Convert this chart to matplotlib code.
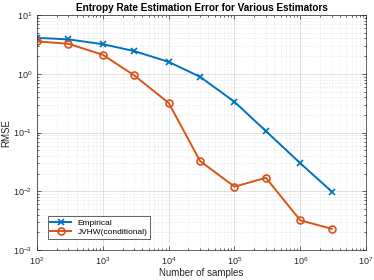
import numpy as np
import matplotlib
matplotlib.use('Agg')
import matplotlib.pyplot as plt
from matplotlib.ticker import LogLocator, NullFormatter

plt.rcParams['font.family'] = ['Liberation Sans', 'DejaVu Sans']

n_samples = [1e2, 3e2, 1e3, 3e3, 1e4, 3e4, 1e5, 3e5, 1e6, 3e6]
rmse_empirical = [4.1, 3.86, 3.2, 2.44, 1.6, 0.89, 0.334, 0.106, 0.030, 0.0099]
rmse_jvhw = [3.57, 3.25, 2.11, 0.94, 0.32, 0.0327, 0.012, 0.017, 0.0032, 0.0023]

fig = plt.figure(figsize=(3.74, 2.8), dpi=100)
ax = fig.add_axes([0.099, 0.107, 0.88, 0.839])

ax.loglog(n_samples, rmse_empirical, '-x', color='#0072BD', lw=1.4, ms=4, mew=1.2,
          label='Empirical')
ax.loglog(n_samples, rmse_jvhw, '-o', color='#D95319', lw=1.4, ms=5, mew=1.2,
          mfc='none', label='JVHW(conditional)')

ax.set_xlim(1e2, 1e7)
ax.set_ylim(1e-3, 1e1)
ax.xaxis.set_major_locator(LogLocator(base=10, numticks=10))
ax.yaxis.set_major_locator(LogLocator(base=10, numticks=10))
ax.xaxis.set_minor_locator(LogLocator(base=10, subs=np.arange(2, 10), numticks=20))
ax.yaxis.set_minor_locator(LogLocator(base=10, subs=np.arange(2, 10), numticks=20))
ax.xaxis.set_minor_formatter(NullFormatter())
ax.yaxis.set_minor_formatter(NullFormatter())

ax.grid(True, which='major', color='#d4d4d4', lw=0.5)
ax.grid(True, which='minor', color='#d8d8d8', lw=0.4, ls=':')
ax.set_axisbelow(True)
ax.tick_params(which='both', direction='in', top=True, right=True, labelsize=6.5,
               colors='#262626', width=0.5)
ax.tick_params(which='major', length=3)
ax.tick_params(which='minor', length=1.5)
for s in ax.spines.values():
    s.set_linewidth(0.5)
    s.set_color('#262626')

ax.set_xlabel('Number of samples', fontsize=7, color='#262626', labelpad=1)
ax.set_ylabel('RMSE', fontsize=7, color='#262626', labelpad=1)
ax.set_title('Entropy Rate Estimation Error for Various Estimators', fontsize=7.2,
             fontweight='bold', pad=3)

leg = ax.legend(loc='lower left', fontsize=6, frameon=True, fancybox=False,
                edgecolor='#262626', framealpha=1, borderpad=0.3, handlelength=2.5,
                labelspacing=0.2, bbox_to_anchor=(0.02, 0.03))
leg.get_frame().set_linewidth(0.5)

fig.savefig('out.png', dpi=100)
